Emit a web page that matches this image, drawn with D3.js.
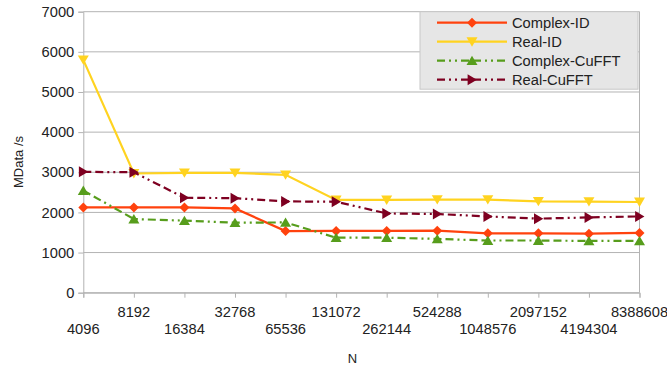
<!DOCTYPE html>
<html>
<head>
<meta charset="utf-8">
<script src="https://cdn.jsdelivr.net/npm/d3@7"></script>
<style>
  html, body { margin: 0; padding: 0; background: #fff; }
  svg text { font-family: "Liberation Sans", Arial, sans-serif; fill: #222; }
</style>
</head>
<body>
<svg id="chart" width="667" height="367"></svg>
<script>
// Transform size N (categories along the x axis)
const sizes = ["4096", "8192", "16384", "32768", "65536", "131072", "262144",
               "524288", "1048576", "2097152", "4194304", "8388608"];

// Throughput in MData/s for each implementation
const complexID    = [2125, 2125, 2125, 2100, 1535, 1540, 1540, 1545, 1480, 1480, 1470, 1490];
const realID       = [5800, 2970, 2985, 2985, 2935, 2310, 2310, 2320, 2320, 2275, 2270, 2260];
const complexCuFFT = [2545, 1835, 1795, 1745, 1750, 1370, 1370, 1340, 1300, 1300, 1290, 1290];
const realCuFFT    = [3010, 3000, 2365, 2355, 2275, 2265, 1975, 1960, 1900, 1845, 1875, 1900];

const yTicks = [0, 1000, 2000, 3000, 4000, 5000, 6000, 7000];

const seriesNames = ["Complex-ID", "Real-ID", "Complex-CuFFT", "Real-CuFFT"];
const seriesColors = ["#ff420e", "#ffd320", "#579d1c", "#7e0021"];

// two dashes followed by two dots
const dashDotDot = "8,4,8,4,2,4,2,4";

const series = [
  { name: seriesNames[0], values: complexID,    color: seriesColors[0], dash: null,       marker: "diamond" },
  { name: seriesNames[1], values: realID,       color: seriesColors[1], dash: null,       marker: "down" },
  { name: seriesNames[2], values: complexCuFFT, color: seriesColors[2], dash: dashDotDot, marker: "up" },
  { name: seriesNames[3], values: realCuFFT,    color: seriesColors[3], dash: dashDotDot, marker: "right" }
];

const svg = d3.select("#chart");
const margin = { left: 83.3, right: 667 - 639.5, top: 11.7, bottom: 367 - 292.7 };
const W = 667 - margin.left - margin.right;
const H = 367 - margin.top - margin.bottom;

const x = d3.scalePoint().domain(sizes).range([margin.left, margin.left + W]);
const y = d3.scaleLinear().domain([0, 7000]).range([margin.top + H, margin.top]);

// horizontal grid
svg.append("g").selectAll("line").data(yTicks).join("line")
  .attr("x1", margin.left).attr("x2", margin.left + W)
  .attr("y1", d => y(d)).attr("y2", d => y(d))
  .attr("stroke", "#b3b3b3").attr("stroke-width", 1);

// right border of the plot area
svg.append("line")
  .attr("x1", margin.left + W).attr("x2", margin.left + W)
  .attr("y1", margin.top).attr("y2", margin.top + H)
  .attr("stroke", "#b3b3b3");

// y axis
const yAxis = d3.axisLeft(y).tickValues(yTicks).tickSize(5).tickPadding(4).tickFormat(d3.format("d"));
const gy = svg.append("g").attr("transform", `translate(${margin.left},0)`).call(yAxis);
gy.select(".domain").attr("stroke", "#b3b3b3");
gy.selectAll(".tick line").attr("stroke", "#b3b3b3");
gy.selectAll(".tick text").style("font-size", "14.7px").attr("fill", "#222");

// x axis with staggered labels
const xAxis = d3.axisBottom(x).tickSize(5).tickFormat("");
const gx = svg.append("g").attr("transform", `translate(0,${margin.top + H})`).call(xAxis);
gx.select(".domain").attr("stroke", "#b3b3b3");
gx.selectAll(".tick line").attr("stroke", "#b3b3b3");
svg.append("g").selectAll("text").data(sizes).join("text")
  .attr("x", d => x(d))
  .attr("y", (d, i) => i % 2 === 1 ? 317 : 333.5)
  .attr("text-anchor", "middle")
  .style("font-size", "14.7px")
  .text(d => d);

// axis titles
svg.append("text").attr("x", 352.5).attr("y", 363)
  .attr("text-anchor", "middle").style("font-size", "13px").text("N");
svg.append("text").attr("transform", "translate(22.5,162) rotate(-90)")
  .attr("text-anchor", "middle").style("font-size", "13px").text("MData /s");

// marker shapes
function markerPath(type, s) {
  switch (type) {
    case "diamond": return `M0,${-s}L${s},0L0,${s}L${-s},0Z`;
    case "down":    return `M${-s},${-s * 0.8}L${s},${-s * 0.8}L0,${s * 0.9}Z`;
    case "up":      return `M${-s},${s * 0.8}L${s},${s * 0.8}L0,${-s * 0.9}Z`;
    case "right":   return `M${-s * 0.8},${-s}L${-s * 0.8},${s}L${s * 0.9},0Z`;
  }
}

const line = d3.line().x((d, i) => x(sizes[i])).y(d => y(d));

series.forEach(s => {
  const g = svg.append("g");
  g.append("path").datum(s.values)
    .attr("d", line)
    .attr("fill", "none")
    .attr("stroke", s.color)
    .attr("stroke-width", 2.2)
    .attr("stroke-dasharray", s.dash);
  g.selectAll("path.m").data(s.values).join("path").attr("class", "m")
    .attr("transform", (d, i) => `translate(${x(sizes[i])},${y(d)})`)
    .attr("d", markerPath(s.marker, s.marker === "diamond" ? 5 : 5.5))
    .attr("fill", s.color);
});

// legend
const lg = svg.append("g");
lg.append("rect").attr("x", 420).attr("y", 11.7).attr("width", 218).attr("height", 77.5)
  .attr("fill", "#e6e6e6").attr("stroke", "#c8c8c8");
series.forEach((s, i) => {
  const yy = 22.7 + i * 19;
  lg.append("line").attr("x1", 437).attr("x2", 507).attr("y1", yy).attr("y2", yy)
    .attr("stroke", s.color).attr("stroke-width", 2.2).attr("stroke-dasharray", s.dash)
    .attr("stroke-dashoffset", s.dash ? 12 : null);
  lg.append("path").attr("transform", `translate(472,${yy})`)
    .attr("d", markerPath(s.marker, s.marker === "diamond" ? 5 : 5.5)).attr("fill", s.color);
  lg.append("text").attr("x", 512).attr("y", yy + 5).style("font-size", "14.7px").text(s.name);
});
</script>
</body>
</html>
